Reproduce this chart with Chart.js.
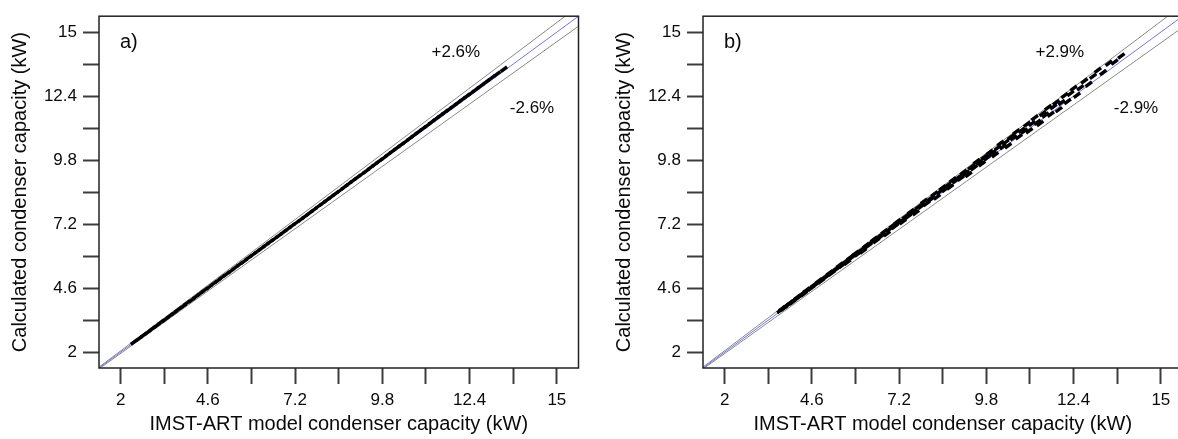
<!DOCTYPE html>
<html>
<head>
<meta charset="utf-8">
<script src="https://cdn.jsdelivr.net/npm/chart.js@4"></script>
<style>
  html, body { margin: 0; padding: 0; background: #fff; }
  #wrap { position: relative; width: 1178px; height: 439px; overflow: hidden; }
  canvas { position: absolute; top: 0; }
  #chartA { left: 0; }
  #chartB { left: 604px; }
</style>
</head>
<body>
<div id="wrap">
  <canvas id="chartA" width="590" height="439"></canvas>
  <canvas id="chartB" width="590" height="439"></canvas>
</div>
<script>
// axis ticks shared by both panels
const tickValues = [2, 3.3, 4.6, 5.9, 7.2, 8.5, 9.8, 11.1, 12.4, 13.7, 15];
const tickLabels = ['2', '', '4.6', '', '7.2', '', '9.8', '', '12.4', '', '15'];
const axisMin = 1.355;
const axisMax = 15.645;

// panel a) - IMST-ART model vs calculated condenser capacity (kW)
const modelA = [2.40, 2.55, 2.68, 2.80, 2.95, 3.08, 3.20, 3.34, 3.47, 3.60, 3.72, 3.86, 3.98, 4.12, 4.25, 4.38,
  4.50, 4.64, 4.77, 4.90, 5.02, 5.16, 5.30, 5.42, 5.55, 5.68, 5.81, 5.94, 6.07, 6.20, 6.33, 6.46,
  6.59, 6.72, 6.85, 6.98, 7.11, 7.24, 7.37, 7.50, 7.63, 7.76, 7.89, 8.02, 8.15, 8.28, 8.41, 8.54,
  8.67, 8.80, 8.93, 9.06, 9.19, 9.32, 9.45, 9.58, 9.71, 9.84, 9.97, 10.10, 10.23, 10.36, 10.49, 10.62,
  10.75, 10.88, 11.01, 11.14, 11.27, 11.40, 11.53, 11.66, 11.79, 11.92, 12.05, 12.18, 12.31, 12.44,
  12.58, 12.72, 12.90, 13.05, 13.22, 13.42];
const calcA = [2.41, 2.55, 2.69, 2.80, 2.96, 3.08, 3.21, 3.34, 3.48, 3.60, 3.73, 3.86, 4.00, 4.12, 4.26, 4.39,
  4.51, 4.65, 4.79, 4.91, 5.04, 5.17, 5.31, 5.44, 5.57, 5.69, 5.83, 5.96, 6.09, 6.22, 6.35, 6.48,
  6.61, 6.74, 6.87, 7.00, 7.13, 7.26, 7.39, 7.52, 7.65, 7.78, 7.92, 8.05, 8.18, 8.31, 8.44, 8.57,
  8.71, 8.84, 8.97, 9.10, 9.23, 9.36, 9.50, 9.63, 9.76, 9.89, 10.03, 10.16, 10.29, 10.42, 10.55, 10.69,
  10.82, 10.95, 11.08, 11.21, 11.35, 11.48, 11.61, 11.74, 11.87, 12.00, 12.13, 12.26, 12.39, 12.52,
  12.66, 12.80, 12.98, 13.13, 13.30, 13.49];
const bandA = 2.6;

// panel b)
const modelB = [3.66, 3.71, 3.77, 3.83, 3.90, 3.96, 4.03, 4.09, 4.16, 4.22, 4.30, 4.37, 4.44, 4.51, 4.58, 4.66,
  4.73, 4.81, 4.88, 4.96, 5.04, 5.12, 5.19, 5.27, 5.35, 5.43, 5.50, 5.58, 5.66, 5.74, 5.82, 5.90,
  5.97, 6.05, 6.13, 6.21, 6.29, 6.37, 6.45, 6.52, 6.60, 6.68, 6.76, 6.84, 6.92, 7.00, 7.07, 7.15,
  7.23, 7.31, 7.39, 7.47, 7.55, 7.62, 7.70, 7.78, 7.86, 7.94, 8.02, 8.10, 8.17, 8.25, 8.33, 8.41,
  8.49, 8.57, 8.64, 8.72, 8.80, 8.88, 8.96, 9.04, 9.12, 9.19, 9.27, 9.35, 9.43, 9.51, 9.59, 9.67,
  9.74, 9.82, 9.90, 9.98, 10.06, 10.14, 10.22, 10.30, 10.37, 10.45, 10.53, 10.61, 10.69, 10.77, 10.85, 10.93,
  11.01, 11.08, 11.16, 11.24, 11.32, 11.40, 11.48, 11.56, 11.64, 11.72, 11.80, 11.88, 11.96, 12.04, 12.13, 12.22,
  12.31, 12.40, 12.50, 12.60, 12.72, 12.85, 12.98, 13.12, 13.28, 13.45, 13.62, 13.82];
const calcB = [3.69, 3.77, 3.78, 3.88, 3.92, 4.02, 4.04, 4.13, 4.23, 4.24, 4.36, 4.37, 4.52, 4.55, 4.59, 4.73,
  4.76, 4.90, 4.89, 5.02, 5.07, 5.21, 5.20, 5.34, 5.39, 5.54, 5.52, 5.65, 5.65, 5.84, 5.87, 6.02,
  5.99, 6.13, 6.11, 6.33, 6.33, 6.45, 6.59, 6.52, 6.70, 6.72, 6.90, 6.81, 7.00, 7.13, 7.10, 7.31,
  7.30, 7.30, 7.51, 7.51, 7.71, 7.71, 7.66, 7.91, 7.92, 8.13, 8.04, 8.21, 8.23, 8.42, 8.30, 8.51,
  8.68, 8.61, 8.78, 8.71, 9.00, 8.96, 9.09, 9.06, 9.31, 9.28, 9.21, 9.52, 9.49, 9.74, 9.71, 9.65,
  9.93, 9.89, 10.12, 10.09, 10.02, 10.30, 10.48, 10.34, 10.52, 10.38, 10.74, 10.71, 10.95, 10.75, 11.01, 10.98,
  11.26, 10.99, 11.29, 11.52, 11.34, 11.29, 11.69, 11.63, 11.94, 11.66, 11.97, 12.14, 11.85, 12.14, 12.42, 12.18,
  12.51, 12.72, 12.43, 12.74, 13.01, 12.88, 13.21, 13.45, 13.36, 13.73, 13.78, 14.03];
const bandB = 2.9;

const textColor = '#0a0a0a';
const fontFamily = 'Arial, "Liberation Sans", sans-serif';

// text labels inside the plot plus the box around it
const panelDecor = {
  id: 'panelDecor',
  afterDraw(chart, args, opts) {
    const { ctx, chartArea, scales } = chart;
    ctx.save();
    ctx.strokeStyle = '#222';
    ctx.lineWidth = 1.5;
    ctx.strokeRect(chartArea.left, chartArea.top, chartArea.right - chartArea.left, chartArea.bottom - chartArea.top);
    ctx.fillStyle = textColor;
    ctx.textBaseline = 'middle';
    opts.items.forEach(t => {
      ctx.font = t.size + 'px ' + fontFamily;
      ctx.textAlign = t.align;
      ctx.fillText(t.text, scales.x.getPixelForValue(t.x), scales.y.getPixelForValue(t.y));
    });
    ctx.restore();
  }
};

function axis(titleText, horizontal) {
  return {
    type: 'linear',
    min: axisMin,
    max: axisMax,
    afterBuildTicks: s => { s.ticks = tickValues.map(v => ({ value: v })); },
    afterFit: s => { if (horizontal) s.height = 71; else s.width = 99; },
    grid: { drawOnChartArea: false, tickLength: 16, tickWidth: 2, tickColor: '#3c3c3c' },
    border: { display: false },
    ticks: {
      autoSkip: false,
      maxRotation: 0,
      padding: 6,
      color: textColor,
      font: { size: 17, family: fontFamily },
      callback: (v, i) => tickLabels[i]
    },
    title: {
      display: true,
      text: titleText,
      color: textColor,
      font: { size: 20, family: fontFamily },
      padding: horizontal ? { top: 0, bottom: 3 } : { top: 8, bottom: 0 }
    }
  };
}

function makePanel(id, xs, ys, band, name) {
  const pts = xs.map((x, i) => ({ x: x, y: ys[i] }));
  const refLine = f => [{ x: axisMin, y: axisMin * f }, { x: axisMax, y: axisMax * f }];
  new Chart(document.getElementById(id), {
    type: 'scatter',
    data: {
      datasets: [
        {
          data: pts,
          pointStyle: 'line',
          rotation: -36.5,
          radius: 4,
          borderWidth: 3.4,
          borderColor: '#000',
          backgroundColor: '#000'
        },
        { data: refLine(1), showLine: true, borderColor: '#7474f0', borderWidth: 1, pointRadius: 0 },
        { data: refLine(1 + band / 100), showLine: true, borderColor: '#8a8a8a', borderWidth: 1, pointRadius: 0 },
        { data: refLine(1 - band / 100), showLine: true, borderColor: '#8a8a8a', borderWidth: 1, pointRadius: 0 }
      ]
    },
    options: {
      responsive: false,
      animation: false,
      layout: { padding: { top: 13, right: 11.5, bottom: 0, left: 0 } },
      scales: {
        x: axis('IMST-ART model condenser capacity (kW)', true),
        y: axis('Calculated condenser capacity (kW)', false)
      },
      plugins: {
        legend: { display: false },
        tooltip: { enabled: false },
        panelDecor: {
          items: [
            { text: name, x: 1.98, y: 14.56, size: 20, align: 'left' },
            { text: '+' + band.toFixed(1) + '%', x: 11.99, y: 14.17, size: 17, align: 'center' },
            { text: '-' + band.toFixed(1) + '%', x: 14.26, y: 11.9, size: 17, align: 'center' }
          ]
        }
      }
    },
    plugins: [panelDecor]
  });
}

makePanel('chartA', modelA, calcA, bandA, 'a)');
makePanel('chartB', modelB, calcB, bandB, 'b)');
</script>
</body>
</html>
